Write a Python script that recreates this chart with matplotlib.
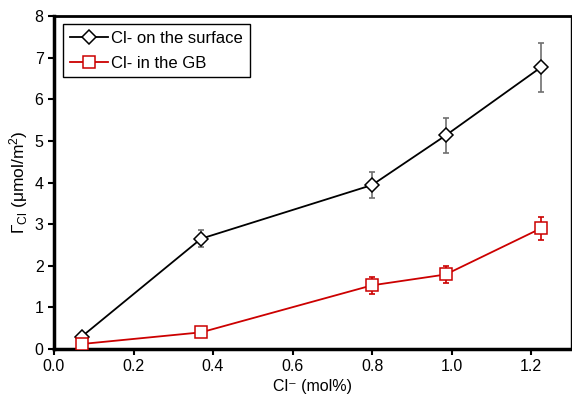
import matplotlib.pyplot as plt

plt.rcParams['font.family'] = ['Liberation Sans', 'DejaVu Sans']
plt.rcParams['mathtext.fontset'] = 'custom'
plt.rcParams['mathtext.rm'] = 'Liberation Sans'
plt.rcParams['mathtext.it'] = 'Liberation Sans'

conc = [0.07, 0.37, 0.80, 0.985, 1.225]
surface = [0.30, 2.65, 3.94, 5.13, 6.77]
surface_err = [0.0, 0.20, 0.32, 0.43, 0.59]
gb = [0.12, 0.40, 1.53, 1.79, 2.90]
gb_err = [0.0, 0.0, 0.20, 0.20, 0.27]

fig = plt.figure(figsize=(5.72, 4.01), dpi=100)
ax = fig.add_axes([0.0944, 0.1297, 0.9036, 0.8303])

ax.errorbar(conc, surface, yerr=surface_err, fmt='none', ecolor='#707070',
            elinewidth=1.2, capsize=2.5, capthick=1.2, zorder=2)
ax.plot(conc, surface, color='black', lw=1.3, marker='D', markersize=7.5,
        markerfacecolor='white', markeredgecolor='black', markeredgewidth=1.1,
        label='Cl- on the surface', zorder=3)
ax.errorbar(conc, gb, yerr=gb_err, fmt='none', ecolor='#cc0000',
            elinewidth=1.2, capsize=2.5, capthick=1.2, zorder=2)
ax.plot(conc, gb, color='#cc0000', lw=1.3, marker='s', markersize=8,
        markerfacecolor='white', markeredgecolor='#cc0000', markeredgewidth=1.1,
        label='Cl- in the GB', zorder=3)

ax.set_xlim(0, 1.3)
ax.set_ylim(0, 8)
ax.set_xticks([0.0, 0.2, 0.4, 0.6, 0.8, 1.0, 1.2])
ax.set_xticklabels(['0.0', '0.2', '0.4', '0.6', '0.8', '1.0', '1.2'])
ax.set_yticks(range(0, 9))

for s in ['left', 'bottom']:
    ax.spines[s].set_linewidth(2.5)
ax.spines['top'].set_linewidth(2.0)
ax.spines['right'].set_linewidth(1.0)
ax.tick_params(direction='out', length=4, width=1.5, labelsize=11.5,
               top=False, right=False)

ax.set_xlabel('Cl\u207b (mol%)', fontsize=11.5, labelpad=3)
ax.set_ylabel('\u0393$_{\\mathrm{Cl}}$ (\u03bcmol/m$^{2}$)', fontsize=12.5, labelpad=3)

leg = ax.legend(loc='upper left', bbox_to_anchor=(0.0174, 0.976), fontsize=12,
                frameon=True, fancybox=False, edgecolor='black', framealpha=1,
                handlelength=2.3, handletextpad=0.2, borderpad=0.4, labelspacing=0.6,
                borderaxespad=0)
leg.get_frame().set_linewidth(1.0)

fig.savefig('out.png', dpi=100)
